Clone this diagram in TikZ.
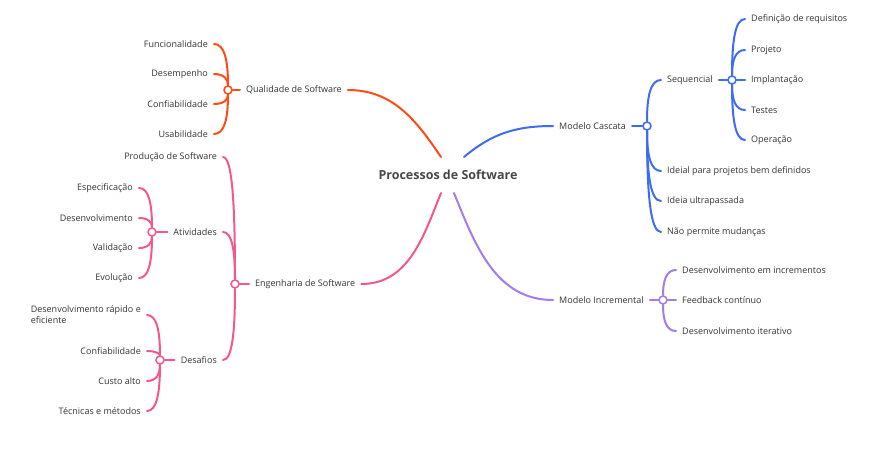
\documentclass[tikz,border=0pt]{standalone}
\usepackage{fontspec}
\setmainfont{Open Sans}
\usetikzlibrary{calc}
\definecolor{txt}{HTML}{333333}
\definecolor{cRed}{HTML}{FF4B14}
\definecolor{cPink}{HTML}{F2598A}
\definecolor{cBlue}{HTML}{3D6BF5}
\definecolor{cPurple}{HTML}{A47BEA}
\begin{document}
\begin{tikzpicture}[
  x=1pt, y=-1pt,
  root/.style={font=\fontsize{12.5}{15}\selectfont\bfseries, text=txt!90},
  leafl/.style={anchor=east, inner xsep=6pt, inner ysep=1pt, font=\fontsize{9}{11}\selectfont, text=txt, align=left},
  leafr/.style={anchor=west, inner xsep=6pt, inner ysep=1pt, font=\fontsize{9}{11}\selectfont, text=txt},
  hub/.style={circle, draw=#1, fill=white, line width=1.5pt, minimum size=8pt, inner sep=0pt},
  link/.style={draw=#1, line width=2pt, line cap=round},
  hubcurve/.style={to path={.. controls ($(\tikztostart)!0.75!(\tikztotarget |- \tikztostart)$)
                          and ($(\tikztotarget)!0.65!(\tikztotarget |- \tikztostart)$) .. (\tikztotarget)}}
]
  \useasboundingbox (0,0) rectangle (878,456);

  %-- Centre
  \node[root] (root) at (448,175) {Processos de Software};
  \coordinate (rRed)    at (441,157);
  \coordinate (rBlue)   at (464,157);
  \coordinate (rPink)   at (441,193);
  \coordinate (rPurple) at (454,193);

  %-- Qualidade de Software
  \node[leafl, anchor=west] (qual) at (240,90) {Qualidade de Software};
  \node[hub=cRed] (qh) at (228,90) {};
  \node[leafl] (fun) at (214,44)  {Funcionalidade};
  \node[leafl] (des) at (214,74)  {Desempenho};
  \node[leafl] (con) at (214,104) {Confiabilidade};
  \node[leafl] (usa) at (214,134) {Usabilidade};

  %-- Engenharia de Software
  \node[leafl, anchor=west] (eng) at (249,284) {Engenharia de Software};
  \node[hub=cPink] (eh) at (235,284) {};
  \node[leafl] (prod) at (223,157) {Produção de Software};
  \node[leafl] (ativ) at (223,232) {Atividades};
  \node[leafl] (desa) at (223,360) {Desafios};
  \node[hub=cPink] (ah) at (152,232) {};
  \node[leafl] (espe) at (139,188) {Especificação};
  \node[leafl] (dese) at (139,218) {Desenvolvimento};
  \node[leafl] (vali) at (139,248) {Validação};
  \node[leafl] (evol) at (139,278) {Evolução};
  \node[hub=cPink] (dh) at (160,360) {};
  \node[leafl] (rapi) at (147,315) {Desenvolvimento rápido e\\eficiente};
  \node[leafl] (conf) at (147,351) {Confiabilidade};
  \node[leafl] (cust) at (147,381) {Custo alto};
  \node[leafl] (tecn) at (147,411) {Técnicas e métodos};

  %-- Modelo Cascata
  \node[leafr] (casc) at (553,126) {Modelo Cascata};
  \node[hub=cBlue] (ch) at (647,126) {};
  \node[leafr] (sequ) at (661,80)  {Sequencial};
  \node[leafr] (idea) at (661,171) {Ideial para projetos bem definidos};
  \node[leafr] (ultr) at (661,201) {Ideia ultrapassada};
  \node[leafr] (muda) at (661,232) {Não permite mudanças};
  \node[hub=cBlue] (sh) at (732,80) {};
  \node[leafr] (requ) at (745,19)  {Definição de requisitos};
  \node[leafr] (proj) at (745,50)  {Projeto};
  \node[leafr] (impl) at (745,80)  {Implantação};
  \node[leafr] (test) at (745,110) {Testes};
  \node[leafr] (oper) at (745,140) {Operação};

  %-- Modelo Incremental
  \node[leafr] (incr) at (553,300) {Modelo Incremental};
  \node[hub=cPurple] (ih) at (663,300) {};
  \node[leafr] (emin) at (676,270) {Desenvolvimento em incrementos};
  \node[leafr] (feed) at (676,300) {Feedback contínuo};
  \node[leafr] (iter) at (676,331) {Desenvolvimento iterativo};

  %-- Branches principales
  \draw[link=cRed]    (rRed)    to[out=124, in=0]   (qual.east);
  \draw[link=cBlue]   (rBlue)   to[out=40,  in=180] (casc.west);
  \draw[link=cPink]   (rPink)   to[out=248, in=0]   (eng.east);
  \draw[link=cPurple] (rPurple) to[out=292, in=180] (incr.west);

  %-- Qualidade
  \draw[link=cRed] (qual.west) -- (qh);
  \draw[link=cRed] (fun.east) to[hubcurve] (qh);
  \draw[link=cRed] (des.east) to[hubcurve] (qh);
  \draw[link=cRed] (con.east) to[hubcurve] (qh);
  \draw[link=cRed] (usa.east) to[hubcurve] (qh);

  %-- Engenharia
  \draw[link=cPink] (eng.west) -- (eh);
  \draw[link=cPink] (prod.east) to[hubcurve] (eh);
  \draw[link=cPink] (ativ.east) to[hubcurve] (eh);
  \draw[link=cPink] (desa.east) to[hubcurve] (eh);
  \draw[link=cPink] (ativ.west) -- (ah);
  \draw[link=cPink] (espe.east) to[hubcurve] (ah);
  \draw[link=cPink] (dese.east) to[hubcurve] (ah);
  \draw[link=cPink] (vali.east) to[hubcurve] (ah);
  \draw[link=cPink] (evol.east) to[hubcurve] (ah);
  \draw[link=cPink] (desa.west) -- (dh);
  \draw[link=cPink] (rapi.east) to[hubcurve] (dh);
  \draw[link=cPink] (conf.east) to[hubcurve] (dh);
  \draw[link=cPink] (cust.east) to[hubcurve] (dh);
  \draw[link=cPink] (tecn.east) to[hubcurve] (dh);

  %-- Cascata
  \draw[link=cBlue] (casc.east) -- (ch);
  \draw[link=cBlue] (sequ.west) to[hubcurve] (ch);
  \draw[link=cBlue] (idea.west) to[hubcurve] (ch);
  \draw[link=cBlue] (ultr.west) to[hubcurve] (ch);
  \draw[link=cBlue] (muda.west) to[hubcurve] (ch);
  \draw[link=cBlue] (sequ.east) -- (sh);
  \draw[link=cBlue] (requ.west) to[hubcurve] (sh);
  \draw[link=cBlue] (proj.west) to[hubcurve] (sh);
  \draw[link=cBlue] (impl.west) -- (sh);
  \draw[link=cBlue] (test.west) to[hubcurve] (sh);
  \draw[link=cBlue] (oper.west) to[hubcurve] (sh);

  %-- Incremental
  \draw[link=cPurple] (incr.east) -- (ih);
  \draw[link=cPurple] (emin.west) to[hubcurve] (ih);
  \draw[link=cPurple] (feed.west) -- (ih);
  \draw[link=cPurple] (iter.west) to[hubcurve] (ih);
\end{tikzpicture}
\end{document}
